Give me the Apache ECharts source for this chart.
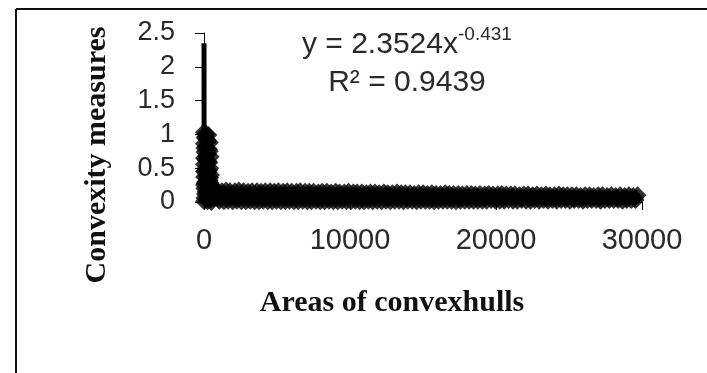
<!DOCTYPE html>
<html>
<head>
<meta charset="utf-8">
<script src="https://cdn.jsdelivr.net/npm/echarts@6/dist/echarts.min.js"></script>
<style>
  html, body { margin: 0; padding: 0; background: #fff; }
  #chart { width: 707px; height: 373px; }
</style>
</head>
<body>
<div id="chart"></div>
<script>
// ticks
const xTicks = [0, 10000, 20000, 30000];
const yTicks = [0, 0.5, 1, 1.5, 2, 2.5];

// points close to the origin (small hulls)
const nearOrigin = [
  [0, 1.03], [140, 1.01], [300, 0.99], [50, 0.95], [230, 0.92], [400, 0.88], [0, 0.86],
  [160, 0.82], [340, 0.78], [30, 0.74], [250, 0.71], [450, 0.67], [90, 0.63], [320, 0.6],
  [0, 0.56], [200, 0.53], [420, 0.5], [60, 0.46], [280, 0.44], [480, 0.4], [10, 0.37],
  [180, 0.35], [380, 0.32], [60, 0.28], [290, 0.26], [500, 0.24], [20, 0.2], [220, 0.19],
  [430, 0.17], [620, 0.16], [60, 0.12], [300, 0.11], [520, 0.1], [760, 0.18], [30, 0.06],
  [220, 0.05], [450, 0.04], [660, 0.05], [10, 0.01], [240, 0.01], [500, 0.0], [850, 0.12],
  [950, 0.05], [100, 0.97], [280, 0.9], [20, 0.8], [400, 0.75], [150, 0.68], [0, 0.65],
  [350, 0.58], [100, 0.5], [0, 0.45], [330, 0.47], [150, 0.41], [420, 0.36], [100, 0.3],
  [440, 0.28], [0, 0.25], [350, 0.21], [120, 0.15], [560, 0.22], [700, 0.1]
];

// upper edge of the band
const bandHigh = [
  [900,0.17],[1230,0.16],[1510,0.17],[1780,0.16],[2120,0.16],[2390,0.17],[2710,0.16],[3020,0.15],
  [3290,0.16],[3630,0.16],[3910,0.15],[4200,0.16],[4530,0.16],[4810,0.15],[5090,0.16],[5420,0.15],
  [5700,0.16],[6010,0.15],[6330,0.15],[6590,0.16],[6920,0.15],[7210,0.15],[7500,0.15],[7830,0.14],
  [8090,0.15],[8410,0.15],[8700,0.14],[9020,0.15],[9290,0.14],[9610,0.14],[9900,0.15],[10230,0.14],
  [10490,0.14],[10810,0.14],[11120,0.13],[11400,0.14],[11710,0.14],[12000,0.13],[12320,0.14],[12590,0.13],
  [12900,0.13],[13220,0.14],[13500,0.13],[13790,0.13],[14110,0.13],[14400,0.12],[14700,0.13],[15010,0.13],
  [15300,0.12],[15610,0.13],[15890,0.12],[16200,0.12],[16520,0.13],[16800,0.12],[17090,0.12],[17410,0.12],
  [17700,0.11],[18000,0.12],[18310,0.12],[18590,0.11],[18900,0.12],[19220,0.11],[19500,0.12],[19800,0.11],
  [20110,0.11],[20400,0.12],[20700,0.11],[21010,0.11],[21290,0.11],[21600,0.10],[21910,0.11],[22200,0.11],
  [22510,0.10],[22800,0.11],[23100,0.10],[23410,0.11],[23690,0.10],[24000,0.10],[24310,0.11],[24600,0.10],
  [24890,0.10],[25200,0.10],[25510,0.10],[25800,0.09],[26100,0.10],[26410,0.10],[26700,0.09],[27000,0.10],
  [27300,0.10],[27610,0.09],[27900,0.10],[28200,0.09],[28500,0.10],[28810,0.09],[29100,0.10],[29400,0.09],
  [29690,0.10]
];

// middle of the band
const bandMid = [
  [700,0.09],[1300,0.08],[1900,0.09],[2500,0.08],[3100,0.08],[3700,0.09],[4300,0.08],[4900,0.08],
  [5500,0.09],[6100,0.08],[6700,0.08],[7300,0.08],[7900,0.07],[8500,0.08],[9100,0.08],[9700,0.07],
  [10300,0.08],[10900,0.07],[11500,0.07],[12100,0.08],[12700,0.07],[13300,0.07],[13900,0.07],[14500,0.07],
  [15100,0.07],[15700,0.06],[16300,0.07],[16900,0.07],[17500,0.06],[18100,0.07],[18700,0.06],[19300,0.07],
  [19900,0.06],[20500,0.06],[21100,0.07],[21700,0.06],[22300,0.06],[22900,0.06],[23500,0.06],[24100,0.06],
  [24700,0.06],[25300,0.05],[25900,0.06],[26500,0.06],[27100,0.05],[27700,0.06],[28300,0.06],[28900,0.05],
  [29500,0.06]
];

// lower edge of the band
const bandLow = [
  [1050,0.02],[1360,0.01],[1650,0.02],[1960,0.01],[2250,0.02],[2560,0.01],[2870,0.01],[3160,0.02],
  [3470,0.01],[3770,0.01],[4060,0.02],[4370,0.01],[4670,0.01],[4960,0.02],[5260,0.01],[5570,0.01],
  [5860,0.02],[6170,0.01],[6460,0.01],[6770,0.02],[7070,0.01],[7360,0.01],[7670,0.02],[7960,0.01],
  [8260,0.01],[8560,0.02],[8860,0.01],[9160,0.01],[9460,0.02],[9760,0.01],[10060,0.01],[10360,0.02],
  [10660,0.01],[10960,0.01],[11260,0.02],[11560,0.01],[11860,0.02],[12160,0.01],[12460,0.02],[12760,0.01],
  [13060,0.02],[13360,0.02],[13660,0.01],[13960,0.02],[14260,0.02],[14560,0.01],[14860,0.02],[15160,0.02],
  [15460,0.02],[15760,0.01],[16060,0.02],[16360,0.02],[16660,0.02],[16960,0.02],[17260,0.01],[17560,0.02],
  [17860,0.02],[18160,0.02],[18460,0.02],[18760,0.02],[19060,0.02],[19360,0.02],[19660,0.03],[19960,0.02],
  [20260,0.02],[20560,0.02],[20860,0.03],[21160,0.02],[21460,0.02],[21760,0.03],[22060,0.02],[22360,0.02],
  [22660,0.03],[22960,0.02],[23260,0.03],[23560,0.02],[23860,0.03],[24160,0.02],[24460,0.03],[24760,0.03],
  [25060,0.02],[25360,0.03],[25660,0.03],[25960,0.02],[26260,0.03],[26560,0.03],[26860,0.03],[27160,0.02],
  [27460,0.03],[27760,0.03],[28060,0.03],[28360,0.03],[28660,0.02],[28960,0.03],[29260,0.03],[29560,0.03]
];

// power trendline
const trendAreas = [1, 2, 5, 10, 30, 100, 300, 1000, 3000, 10000, 30000];
const trendValues = [2.35, 1.74, 1.18, 0.87, 0.54, 0.32, 0.2, 0.12, 0.074, 0.044, 0.028];

const eqLine1 = 'y = 2.3524x';
const eqExp = '-0.431';
const eqLine2 = 'R² = 0.9439';

const sans = '"Liberation Sans", Arial, sans-serif';
const serif = '"Liberation Serif", "Times New Roman", serif';

let chart = echarts.init(document.getElementById('chart'));
chart.setOption({
    backgroundColor: '#fff',
    animation: false,
    grid: { left: 204, right: 65, top: 33, bottom: 171 },
    xAxis: {
        type: 'value',
        min: xTicks[0],
        max: xTicks[xTicks.length - 1],
        interval: 10000,
        splitLine: { show: false },
        axisLine: { show: true, onZero: false, lineStyle: { color: '#000', width: 1 } },
        axisTick: { show: true, inside: false, length: 8, lineStyle: { color: '#000' } },
        axisLabel: { margin: 24, fontSize: 29, fontFamily: sans, color: '#2a2a2a', formatter: v => String(v) }
    },
    yAxis: {
        type: 'value',
        min: yTicks[0],
        max: yTicks[yTicks.length - 1],
        interval: 0.5,
        splitLine: { show: false },
        axisLine: { show: true, lineStyle: { color: '#000', width: 1 } },
        axisTick: { show: true, inside: false, length: 9, lineStyle: { color: '#000' } },
        axisLabel: { margin: 29, fontSize: 27, fontFamily: sans, color: '#2a2a2a' }
    },
    series: [
        {
            type: 'scatter',
            symbol: 'diamond',
            symbolSize: 18,
            itemStyle: { color: '#000' },
            data: nearOrigin.concat(bandHigh, bandMid, bandLow),
            z: 2
        },
        {
            type: 'line',
            data: trendAreas.map((a, i) => [a, trendValues[i]]),
            showSymbol: false,
            symbol: 'none',
            lineStyle: { color: '#000', width: 5 },
            z: 3
        }
    ],
    graphic: [
        { type: 'line', shape: { x1: 16, y1: 9, x2: 707, y2: 9 }, style: { stroke: '#111', lineWidth: 2 } },
        { type: 'line', shape: { x1: 16, y1: 9, x2: 16, y2: 373 }, style: { stroke: '#111', lineWidth: 2 } },
        {
            type: 'text', x: 302, y: 45,
            style: { text: eqLine1, font: '30px ' + sans, fill: '#2a2a2a', align: 'left', verticalAlign: 'middle' }
        },
        {
            type: 'text', x: 458, y: 35,
            style: { text: eqExp, font: '19px ' + sans, fill: '#2a2a2a', align: 'left', verticalAlign: 'middle' }
        },
        {
            type: 'text', x: 407, y: 83,
            style: { text: eqLine2, font: '30px ' + sans, fill: '#2a2a2a', align: 'center', verticalAlign: 'middle' }
        },
        {
            type: 'text', x: 97, y: 155, rotation: Math.PI / 2,
            style: { text: 'Convexity measures', font: 'bold 30px ' + serif, fill: '#111', align: 'center', verticalAlign: 'middle' }
        },
        {
            type: 'text', x: 392, y: 303,
            style: { text: 'Areas of convexhulls', font: 'bold 30px ' + serif, fill: '#111', align: 'center', verticalAlign: 'middle' }
        }
    ]
});
</script>
</body>
</html>
